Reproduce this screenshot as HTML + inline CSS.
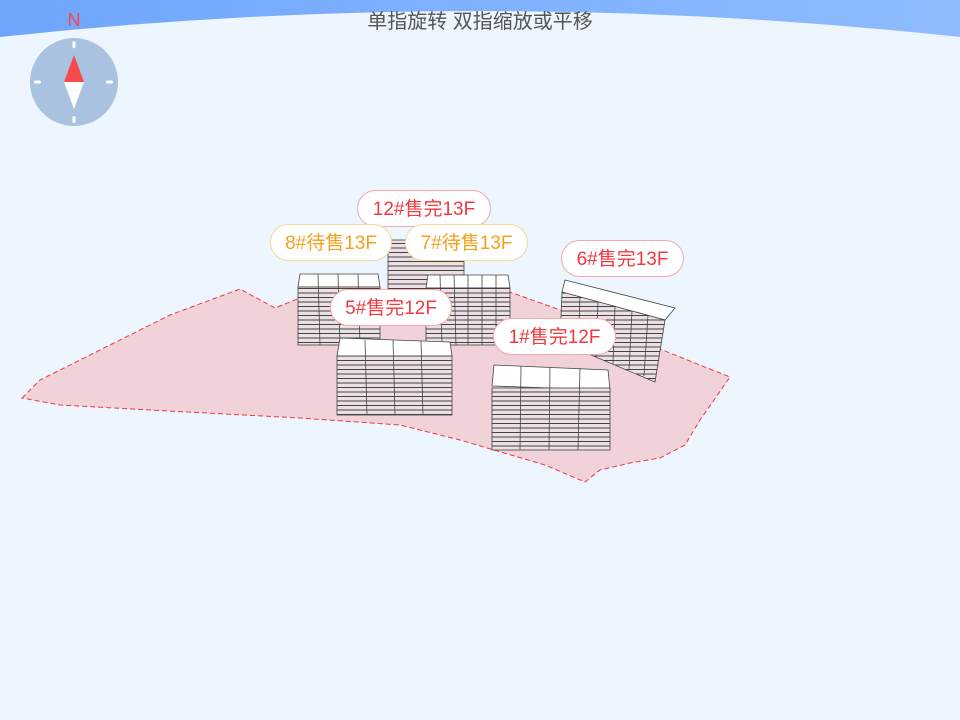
<!DOCTYPE html>
<html><head><meta charset="utf-8"><style>
html,body{margin:0;padding:0;width:960px;height:720px;overflow:hidden;background:#edf5ff;font-family:"Liberation Sans","Noto Sans CJK SC",sans-serif}
.lb{position:absolute;height:37px;line-height:37px;border-radius:19px;background:#fff;font-size:19px;text-align:center;box-sizing:border-box}
.r{color:#f0393f;border:1px solid #f4a8ab}
.o{color:#f5a01c;border:1px solid #f8d79e}
</style></head><body>
<svg width="960" height="720" style="position:absolute;left:0;top:0">
<defs>
<pattern id="fl" width="20" height="4.5" patternUnits="userSpaceOnUse"><rect width="20" height="4.5" fill="#ece0e5"/><line x1="0" y1="0.5" x2="20" y2="0.5" stroke="#444" stroke-width="0.9"/></pattern>
<linearGradient id="sky" x1="0" y1="0" x2="1" y2="0"><stop offset="0" stop-color="#6fa6fb"/><stop offset="1" stop-color="#8fbcff"/></linearGradient>
</defs>
<path d="M0,0H960V37Q480,-15 0,37Z" fill="url(#sky)"/>
<path d="M22,398L40,380L100,350L170,315L240,289L275,308L300,298L380,296L430,290L510,292L560,310L600,325L730,377L700,420L685,445L660,458L630,463L600,470L585,482L545,465L460,440L400,425L300,418L150,410L60,405Z" fill="#f0d2d8" stroke="#f0393f" stroke-dasharray="5,3" stroke-width="1"/>
<g stroke="#444" stroke-width="0.8">
<rect x="388" y="240" width="76" height="50" fill="url(#fl)"/>
<polygon points="298,287 300,274 378,274 380,287" fill="#fff"/>
<rect x="298" y="287" width="82" height="58" fill="url(#fl)"/>
<line x1="318" y1="274" x2="320" y2="345"/><line x1="338" y1="274" x2="340" y2="345"/><line x1="358" y1="274" x2="360" y2="345"/>
<polygon points="426,288 428,275 508,275 510,288" fill="#fff"/>
<rect x="426" y="288" width="84" height="57" fill="url(#fl)"/>
<line x1="440" y1="275" x2="442" y2="345"/><line x1="454" y1="275" x2="456" y2="345"/><line x1="468" y1="275" x2="468" y2="345"/><line x1="482" y1="275" x2="482" y2="345"/><line x1="496" y1="275" x2="496" y2="345"/>
<polygon points="562,292 565,280 675,308 665,320" fill="#fff"/>
<polygon points="562,292 665,320 655,382 560,342" fill="url(#fl)"/>
<line x1="580" y1="297" x2="578" y2="350"/><line x1="598" y1="302" x2="596" y2="357"/><line x1="615" y1="306" x2="613" y2="364"/><line x1="632" y1="311" x2="629" y2="370"/><line x1="648" y1="315" x2="644" y2="376"/>
<polygon points="337,356 340,338 450,342 452,356" fill="#fff"/>
<rect x="337" y="356" width="115" height="59" fill="url(#fl)"/>
<line x1="365" y1="340" x2="367" y2="415"/><line x1="393" y1="340" x2="395" y2="415"/><line x1="421" y1="341" x2="423" y2="415"/>
<polygon points="492,386 494,365 608,370 610,390" fill="#fff"/>
<rect x="492" y="388" width="118" height="62" fill="url(#fl)"/>
<line x1="521" y1="366" x2="520" y2="450"/><line x1="550" y1="367" x2="549" y2="450"/><line x1="580" y1="368" x2="578" y2="450"/>
</g>
<circle cx="74" cy="82" r="44" fill="#a9c2df"/>
<rect x="72.5" y="41" width="3" height="7" rx="1.5" fill="#fff"/>
<rect x="72.5" y="116" width="3" height="7" rx="1.5" fill="#fff"/>
<rect x="34" y="80.5" width="7" height="3" rx="1.5" fill="#fff"/>
<rect x="106" y="80.5" width="7" height="3" rx="1.5" fill="#fff"/>
<polygon points="74,55 64,82 84,82" fill="#f84a4a"/>
<polygon points="74,109 64,82 84,82" fill="#fff"/>
<text x="74" y="26" font-size="18" fill="#f44" text-anchor="middle" font-family="Liberation Sans,sans-serif">N</text>
<text x="480" y="28" font-size="20" fill="#555" text-anchor="middle" font-family="Liberation Sans,Noto Sans CJK SC,sans-serif">单指旋转 双指缩放或平移</text>
</svg>
<div class="lb r" style="left:357px;top:190px;width:134px">12#售完13F</div>
<div class="lb o" style="left:270px;top:224px;width:122px">8#待售13F</div>
<div class="lb o" style="left:405px;top:224px;width:123px">7#待售13F</div>
<div class="lb r" style="left:561px;top:240px;width:123px">6#售完13F</div>
<div class="lb r" style="left:330px;top:289px;width:122px">5#售完12F</div>
<div class="lb r" style="left:493px;top:318px;width:123px">1#售完12F</div>
</body></html>
